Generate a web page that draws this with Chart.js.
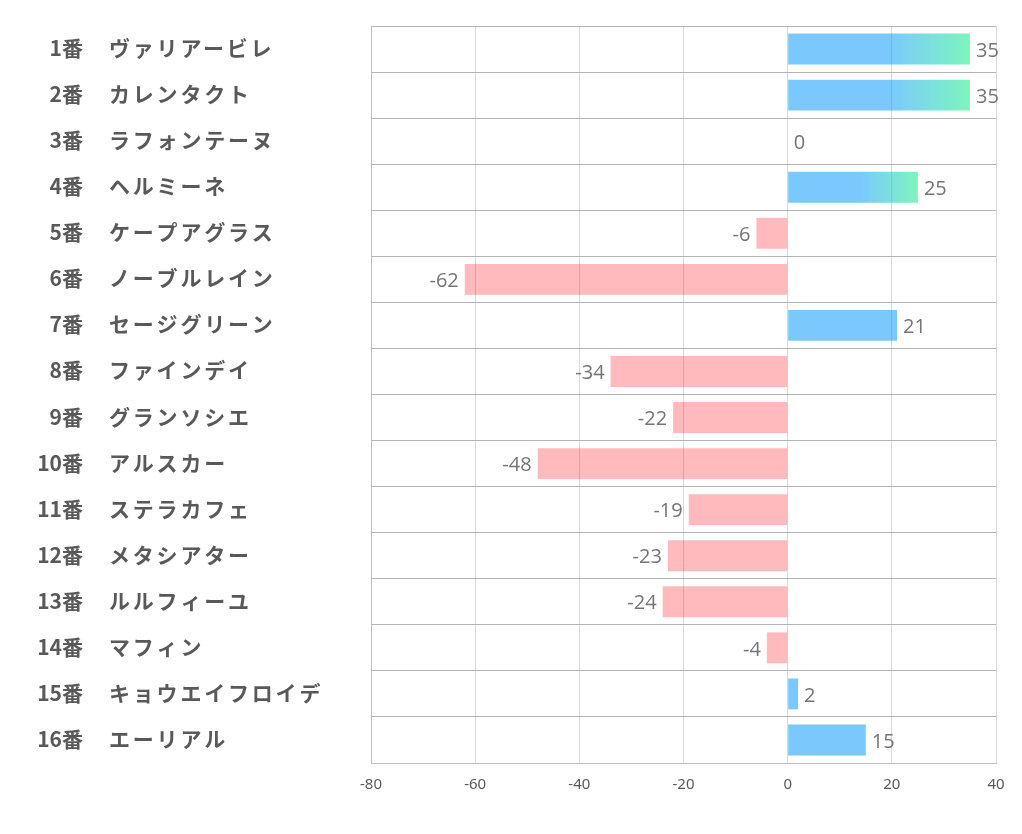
<!DOCTYPE html>
<html><head><meta charset="utf-8">
<script src="https://cdn.jsdelivr.net/npm/chart.js@4/dist/chart.umd.min.js"></script>
<style>html,body{margin:0;padding:0;background:#fff;}canvas{display:block;}</style>
</head><body>
<canvas id="c" width="1022" height="834"></canvas>
<script>
const numbers = ["1番","2番","3番","4番","5番","6番","7番","8番","9番","10番","11番","12番","13番","14番","15番","16番"];
const names = ["ヴァリアービレ","カレンタクト","ラフォンテーヌ","ヘルミーネ","ケープアグラス","ノーブルレイン","セージグリーン","ファインデイ","グランソシエ","アルスカー","ステラカフェ","メタシアター","ルルフィーユ","マフィン","キョウエイフロイデ","エーリアル"];
const values = [35,35,0,25,-6,-62,21,-34,-22,-48,-19,-23,-24,-4,2,15];
const xTicks = [-80,-60,-40,-20,0,20,40];

const BLUE = 'rgba(0,150,255,0.52)';
const GREEN = 'rgba(0,235,125,0.51)';
const PINK = 'rgba(255,0,10,0.27)';
const TXT = '#595959';

const labelPlugin = {
  id: 'labels',
  afterDraw(chart) {
    const ctx = chart.ctx, y = chart.scales.y, x = chart.scales.x;
    ctx.save();
    ctx.textBaseline = 'middle';
    ctx.fillStyle = TXT;
    numbers.forEach((n, i) => {
      const py = y.getPixelForValue(i);
      ctx.font = 'bold 21px "Noto Sans CJK JP", "Noto Sans", sans-serif';
      ctx.letterSpacing = '0px';
      ctx.textAlign = 'right';
      ctx.fillText(n, 83, py - 1);
      ctx.font = 'bold 21px "Noto Sans CJK JP", "Noto Sans", sans-serif';
      ctx.letterSpacing = '2.8px';
      ctx.textAlign = 'left';
      ctx.fillText(names[i], 109, py - 1);
    });
    ctx.letterSpacing = '0px';
    ctx.font = '20px "Open Sans", "Noto Sans", sans-serif';
    ctx.fillStyle = '#757575';
    values.forEach((v, i) => {
      const py = y.getPixelForValue(i) + 2;
      const px = x.getPixelForValue(v);
      if (v < 0) { ctx.textAlign = 'right'; ctx.fillText(String(v), px - 6, py); }
      else { ctx.textAlign = 'left'; ctx.fillText(String(v), px + 6, py); }
    });
    ctx.restore();
  }
};

new Chart(document.getElementById('c'), {
  type: 'bar',
  data: {
    labels: numbers.map((n, i) => n + ' ' + names[i]),
    datasets: [{
      data: values,
      barPercentage: 0.67,
      categoryPercentage: 1,
      borderWidth: 0,
      backgroundColor(context) {
        const v = context.parsed ? context.parsed.x : context.raw;
        if (v < 0) return PINK;
        const chart = context.chart;
        if (v >= 25 && chart.chartArea && chart.scales.x) {
          const x0 = chart.scales.x.getPixelForValue(0);
          const x1 = chart.scales.x.getPixelForValue(v);
          const g = chart.ctx.createLinearGradient(x0, 0, x1, 0);
          g.addColorStop(0, BLUE);
          g.addColorStop(0.55, BLUE);
          g.addColorStop(1, GREEN);
          return g;
        }
        return BLUE;
      }
    }]
  },
  options: {
    responsive: false,
    animation: false,
    indexAxis: 'y',
    layout: { padding: { top: 26, right: 26, bottom: 31, left: 0 } },
    plugins: { legend: { display: false }, tooltip: { enabled: false } },
    scales: {
      x: {
        min: -80, max: 40,
        afterBuildTicks(scale) { scale.ticks = xTicks.map(v => ({ value: v })); },
        afterFit(scale) { scale.height = 40; },
        grid: { color: '#d9d9d9', lineWidth: 1, drawTicks: false },
        border: { color: '#bfbfbf', width: 1 },
        ticks: { color: TXT, padding: 13, font: { size: 15, family: '"Noto Sans", sans-serif' } }
      },
      y: {
        afterFit(scale) { scale.width = 371; },
        grid: { color: '#b4b4b4', lineWidth: 1, drawTicks: false, offset: true },
        border: { color: '#bfbfbf', width: 1 },
        ticks: { display: false }
      }
    }
  },
  plugins: [labelPlugin]
});
</script>
</body></html>
